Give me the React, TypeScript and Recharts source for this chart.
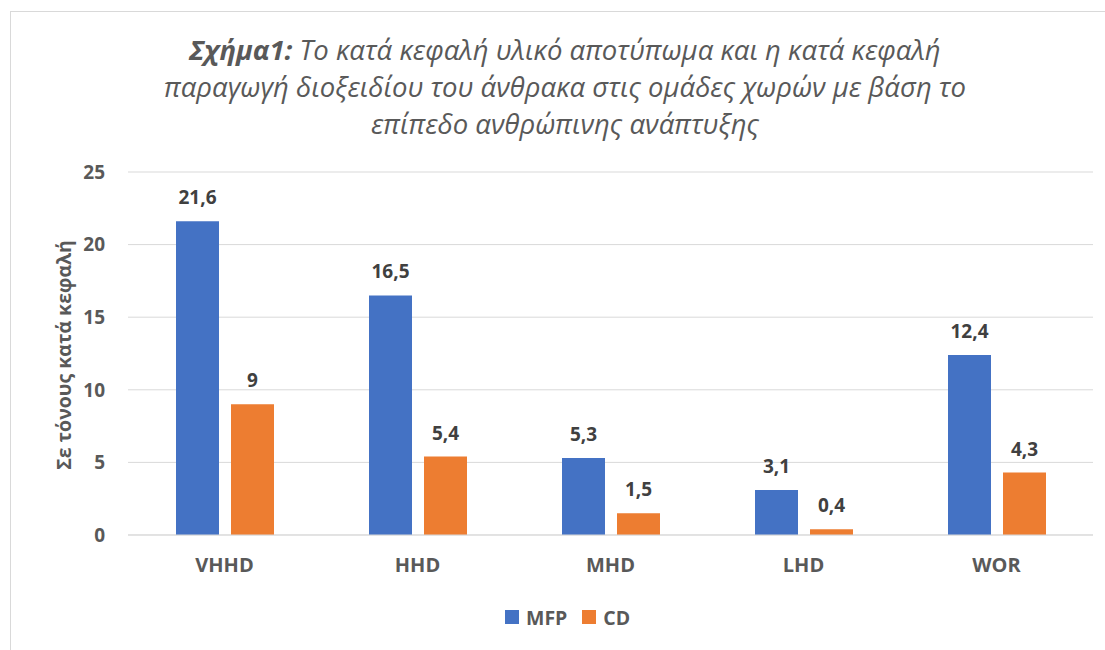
import { Bar, BarChart, CartesianGrid, LabelList, XAxis, YAxis } from "recharts"

const groups = ["VHHD", "HHD", "MHD", "LHD", "WOR"]
const mfp = [21.6, 16.5, 5.3, 3.1, 12.4]
const cd = [9, 5.4, 1.5, 0.4, 4.3]
const yTicks = [0, 5, 10, 15, 20, 25]

const data = groups.map((g, i) => ({ group: g, MFP: mfp[i], CD: cd[i] }))

const FONT = "'Open Sans', 'Noto Sans', sans-serif"
const GREY = "#595959"

const fmt = (v: any) => String(v).replace(".", ",")

const legendItems = [
  { name: "MFP", color: "#4472C4" },
  { name: "CD", color: "#ED7D31" },
]

export default function App() {
  return (
    <div style={{ position: "absolute", left: 0, top: 0, width: 1105, height: 650, overflow: "hidden", background: "#fff" }}>
      <div style={{ position: "absolute", left: 10, top: 11, width: 1200, height: 800, border: "1px solid #d9d9d9" }} />
      <div
        style={{
          position: "absolute",
          left: 0,
          top: 31,
          width: 1130,
          textAlign: "center",
          fontFamily: FONT,
          fontStyle: "italic",
          fontSize: 27.5,
          lineHeight: "37px",
          color: GREY,
        }}
      >
        <b>Σχήμα1:</b> Το κατά κεφαλή υλικό αποτύπωμα και η κατά κεφαλή
        <br />
        παραγωγή διοξειδίου του άνθρακα στις ομάδες χωρών με βάση το
        <br />
        επίπεδο ανθρώπινης ανάπτυξης
      </div>
      <div
        style={{
          position: "absolute",
          left: 63,
          top: 355,
          transform: "translate(-50%, -50%) rotate(-90deg)",
          whiteSpace: "nowrap",
          fontFamily: FONT,
          fontWeight: 700,
          fontSize: 19.5,
          color: GREY,
        }}
      >
        Σε τόνους κατά κεφαλή
      </div>
      <div style={{ position: "absolute", left: 0, top: 0 }}>
        <BarChart
          width={1105}
          height={650}
          data={data}
          margin={{ top: 172, right: 12, bottom: 85, left: 68 }}
          barSize={43}
          barGap={12}
        >
          <CartesianGrid vertical={false} stroke="#d9d9d9" />
          <XAxis
            dataKey="group"
            height={30}
            axisLine={{ stroke: "#d9d9d9" }}
            tickLine={false}
            tickSize={0}
            tickMargin={23}
            tick={{ fill: GREY, fontSize: 20, fontWeight: 700, fontFamily: FONT }}
          />
          <YAxis
            width={60}
            domain={[0, 25]}
            ticks={yTicks}
            axisLine={false}
            tickLine={false}
            tickSize={0}
            tickMargin={23}
            tick={{ fill: GREY, fontSize: 19, fontWeight: 700, fontFamily: FONT }}
          />
          <Bar dataKey="MFP" fill="#4472C4" isAnimationActive={false}>
            <LabelList
              dataKey="MFP"
              position="top"
              offset={17}
              formatter={fmt}
              style={{ fill: "#404040", fontSize: 19, fontWeight: 700, fontFamily: FONT }}
            />
          </Bar>
          <Bar dataKey="CD" fill="#ED7D31" isAnimationActive={false}>
            <LabelList
              dataKey="CD"
              position="top"
              offset={17}
              formatter={fmt}
              style={{ fill: "#404040", fontSize: 19, fontWeight: 700, fontFamily: FONT }}
            />
          </Bar>
        </BarChart>
      </div>
      <div style={{ position: "absolute", left: 505, top: 604, display: "flex", alignItems: "center", height: 26 }}>
        {legendItems.map((it, i) => (
          <div key={it.name} style={{ display: "flex", alignItems: "center", marginRight: i === 0 ? 15 : 0 }}>
            <span style={{ width: 14, height: 14, background: it.color, display: "inline-block", marginRight: 7 }} />
            <span style={{ fontFamily: FONT, fontWeight: 700, fontSize: 19.5, color: GREY }}>{it.name}</span>
          </div>
        ))}
      </div>
    </div>
  )
}
